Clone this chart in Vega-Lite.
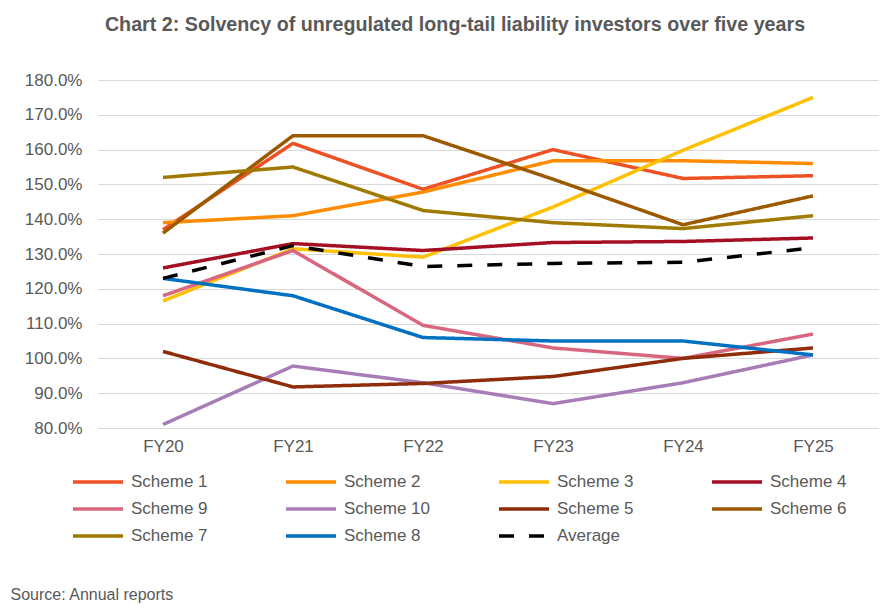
{
  "$schema": "https://vega.github.io/schema/vega-lite/v6.json",
  "width": 780,
  "height": 348,
  "autosize": "none",
  "padding": {"left": 98, "top": 80, "right": 2, "bottom": 185},
  "background": "white",
  "title": {
    "text": "Chart 2: Solvency of unregulated long-tail liability investors over five years",
    "anchor": "middle",
    "dx": -33,
    "offset": 36,
    "fontSize": 19.7,
    "fontWeight": "bold",
    "font": "Liberation Sans",
    "color": "#595959"
  },
  "config": {
    "view": {"stroke": null},
    "font": "Liberation Sans"
  },
  "data": {
    "values": [
      {"series": "Scheme 1", "year": "FY20", "value": 1.37},
      {"series": "Scheme 1", "year": "FY21", "value": 1.618},
      {"series": "Scheme 1", "year": "FY22", "value": 1.486},
      {"series": "Scheme 1", "year": "FY23", "value": 1.60},
      {"series": "Scheme 1", "year": "FY24", "value": 1.517},
      {"series": "Scheme 1", "year": "FY25", "value": 1.525},
      {"series": "Scheme 2", "year": "FY20", "value": 1.39},
      {"series": "Scheme 2", "year": "FY21", "value": 1.41},
      {"series": "Scheme 2", "year": "FY22", "value": 1.478},
      {"series": "Scheme 2", "year": "FY23", "value": 1.568},
      {"series": "Scheme 2", "year": "FY24", "value": 1.568},
      {"series": "Scheme 2", "year": "FY25", "value": 1.56},
      {"series": "Scheme 3", "year": "FY20", "value": 1.165},
      {"series": "Scheme 3", "year": "FY21", "value": 1.315},
      {"series": "Scheme 3", "year": "FY22", "value": 1.291},
      {"series": "Scheme 3", "year": "FY23", "value": 1.435},
      {"series": "Scheme 3", "year": "FY24", "value": 1.598},
      {"series": "Scheme 3", "year": "FY25", "value": 1.75},
      {"series": "Scheme 4", "year": "FY20", "value": 1.26},
      {"series": "Scheme 4", "year": "FY21", "value": 1.33},
      {"series": "Scheme 4", "year": "FY22", "value": 1.31},
      {"series": "Scheme 4", "year": "FY23", "value": 1.333},
      {"series": "Scheme 4", "year": "FY24", "value": 1.336},
      {"series": "Scheme 4", "year": "FY25", "value": 1.346},
      {"series": "Scheme 9", "year": "FY20", "value": 1.18},
      {"series": "Scheme 9", "year": "FY21", "value": 1.31},
      {"series": "Scheme 9", "year": "FY22", "value": 1.095},
      {"series": "Scheme 9", "year": "FY23", "value": 1.03},
      {"series": "Scheme 9", "year": "FY24", "value": 1.0},
      {"series": "Scheme 9", "year": "FY25", "value": 1.07},
      {"series": "Scheme 10", "year": "FY20", "value": 0.81},
      {"series": "Scheme 10", "year": "FY21", "value": 0.978},
      {"series": "Scheme 10", "year": "FY22", "value": 0.93},
      {"series": "Scheme 10", "year": "FY23", "value": 0.87},
      {"series": "Scheme 10", "year": "FY24", "value": 0.93},
      {"series": "Scheme 10", "year": "FY25", "value": 1.01},
      {"series": "Scheme 5", "year": "FY20", "value": 1.02},
      {"series": "Scheme 5", "year": "FY21", "value": 0.918},
      {"series": "Scheme 5", "year": "FY22", "value": 0.928},
      {"series": "Scheme 5", "year": "FY23", "value": 0.948},
      {"series": "Scheme 5", "year": "FY24", "value": 1.0},
      {"series": "Scheme 5", "year": "FY25", "value": 1.03},
      {"series": "Scheme 6", "year": "FY20", "value": 1.36},
      {"series": "Scheme 6", "year": "FY21", "value": 1.64},
      {"series": "Scheme 6", "year": "FY22", "value": 1.64},
      {"series": "Scheme 6", "year": "FY23", "value": 1.515},
      {"series": "Scheme 6", "year": "FY24", "value": 1.384},
      {"series": "Scheme 6", "year": "FY25", "value": 1.467},
      {"series": "Scheme 7", "year": "FY20", "value": 1.52},
      {"series": "Scheme 7", "year": "FY21", "value": 1.55},
      {"series": "Scheme 7", "year": "FY22", "value": 1.425},
      {"series": "Scheme 7", "year": "FY23", "value": 1.39},
      {"series": "Scheme 7", "year": "FY24", "value": 1.373},
      {"series": "Scheme 7", "year": "FY25", "value": 1.41},
      {"series": "Scheme 8", "year": "FY20", "value": 1.23},
      {"series": "Scheme 8", "year": "FY21", "value": 1.18},
      {"series": "Scheme 8", "year": "FY22", "value": 1.06},
      {"series": "Scheme 8", "year": "FY23", "value": 1.05},
      {"series": "Scheme 8", "year": "FY24", "value": 1.05},
      {"series": "Scheme 8", "year": "FY25", "value": 1.01},
      {"series": "Average", "year": "FY20", "value": 1.23},
      {"series": "Average", "year": "FY21", "value": 1.324},
      {"series": "Average", "year": "FY22", "value": 1.264},
      {"series": "Average", "year": "FY23", "value": 1.273},
      {"series": "Average", "year": "FY24", "value": 1.276},
      {"series": "Average", "year": "FY25", "value": 1.318}
    ]
  },
  "mark": {"type": "line", "strokeWidth": 3.5},
  "encoding": {
    "x": {
      "field": "year",
      "type": "ordinal",
      "scale": {"type": "point", "padding": 0.5},
      "axis": {
        "title": "Source: Annual reports",
        "titleFont": "Liberation Sans",
        "titleFontSize": 16,
        "titleFontWeight": "normal",
        "titleColor": "#595959",
        "titleAnchor": "start",
        "titleAlign": "left",
        "titleBaseline": "middle",
        "titleX": -88,
        "titleY": 166,
        "labelAngle": 0,
        "labelFontSize": 17,
        "labelColor": "#595959",
        "labelPadding": 10,
        "ticks": false,
        "domain": false,
        "grid": false
      }
    },
    "y": {
      "field": "value",
      "type": "quantitative",
      "scale": {"domain": [0.8, 1.8], "nice": false, "zero": false},
      "axis": {
        "title": null,
        "format": ".1%",
        "values": [0.8, 0.9, 1.0, 1.1, 1.2, 1.3, 1.4, 1.5, 1.6, 1.7, 1.8],
        "labelFontSize": 17,
        "labelColor": "#595959",
        "labelPadding": 16,
        "ticks": false,
        "domain": false,
        "gridColor": "#d9d9d9",
        "gridWidth": 1
      }
    },
    "color": {
      "field": "series",
      "type": "nominal",
      "scale": {
        "domain": ["Scheme 1", "Scheme 2", "Scheme 3", "Scheme 4", "Scheme 9", "Scheme 10", "Scheme 5", "Scheme 6", "Scheme 7", "Scheme 8", "Average"],
        "range": ["#EE5124", "#FF8C00", "#FFC000", "#A50F23", "#D9667F", "#A77DB8", "#8F2C0A", "#9C5A00", "#A07A00", "#0070C0", "#000000"]
      },
      "legend": {
        "title": null,
        "orient": "none",
        "legendX": -27,
        "legendY": 393,
        "direction": "horizontal",
        "columns": 4,
        "gridAlign": "all",
        "columnPadding": 67,
        "rowPadding": 9,
        "clipHeight": 18,
        "symbolType": "stroke",
        "symbolSize": 2500,
        "symbolStrokeWidth": 3.5,
        "labelOffset": 6,
        "labelFontSize": 17,
        "labelColor": "#595959",
        "labelFont": "Liberation Sans"
      }
    },
    "strokeDash": {
      "field": "series",
      "type": "nominal",
      "scale": {
        "domain": ["Scheme 1", "Scheme 2", "Scheme 3", "Scheme 4", "Scheme 9", "Scheme 10", "Scheme 5", "Scheme 6", "Scheme 7", "Scheme 8", "Average"],
        "range": [[1, 0], [1, 0], [1, 0], [1, 0], [1, 0], [1, 0], [1, 0], [1, 0], [1, 0], [1, 0], [15, 15]]
      },
      "legend": {
        "title": null,
        "orient": "none",
        "legendX": -27,
        "legendY": 393,
        "direction": "horizontal",
        "columns": 4,
        "gridAlign": "all",
        "columnPadding": 67,
        "rowPadding": 9,
        "clipHeight": 18,
        "symbolType": "stroke",
        "symbolSize": 2500,
        "symbolStrokeWidth": 3.5,
        "labelOffset": 6,
        "labelFontSize": 17,
        "labelColor": "#595959",
        "labelFont": "Liberation Sans"
      }
    }
  }
}
